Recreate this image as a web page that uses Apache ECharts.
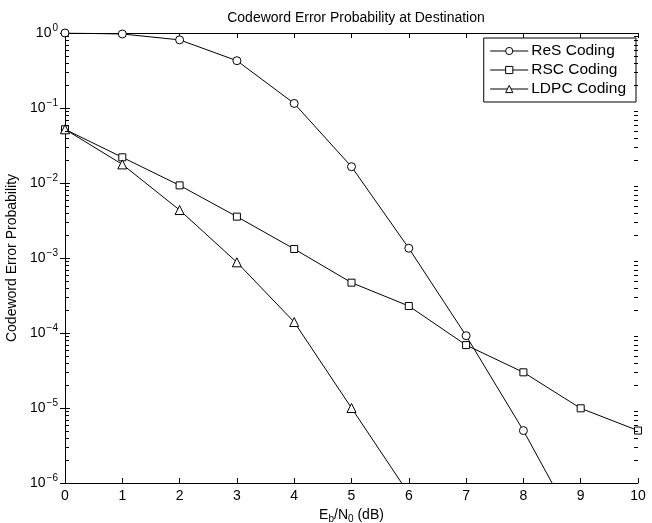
<!DOCTYPE html>
<html>
<head>
<meta charset="utf-8">
<script src="https://cdn.jsdelivr.net/npm/echarts@6/dist/echarts.min.js"></script>
<style>html,body{margin:0;padding:0;background:#fff}#c{width:652px;height:523px}</style>
</head>
<body>
<div id="c"></div>
<script>
const ebn0 = [0, 1, 2, 3, 4, 5, 6, 7, 8, 9, 10];
const resCoding = [1.0, 0.97, 0.81, 0.427, 0.115, 0.0165, 1.35e-3, 9.2e-5, 5.0e-6, 2.0e-7, null];
const rscCoding = [0.052, 0.022, 0.0093, 0.00356, 0.00132, 4.69e-4, 2.29e-4, 6.9e-5, 2.99e-5, 9.9e-6, 5.0e-6];
const ldpcCoding = [0.052, 0.0177, 0.00436, 8.76e-4, 1.4e-4, 1.0e-5, 7.2e-7, null, null, null, null];
const seriesNames = ['ReS Coding', 'RSC Coding', 'LDPC Coding'];
const xTicks = [0, 1, 2, 3, 4, 5, 6, 7, 8, 9, 10];
const yDecades = [-6, -5, -4, -3, -2, -1, 0];
const minorMultipliers = [2, 3, 4, 5, 6, 7, 8, 9];

const FONT = 'Liberation Sans, Arial, Helvetica, sans-serif';
const pairs = arr => ebn0.map((x, i) => [x, arr[i]]).filter(p => p[1] != null);

const chart = echarts.init(document.getElementById('c'), null, {renderer: 'canvas'});
const sup = n => '10{sup|' + (n === 0 ? '0' : '\u2212' + Math.abs(n)) + '}';

const baseSeries = (name, data, symbol) => ({
  name, type: 'line', data: pairs(data), symbol, symbolSize: symbol === 'triangle' ? 9 : (symbol === 'rect' ? 7 : 8),
  showAllSymbol: true, clip: true,
  lineStyle: {color: '#000', width: 1},
  itemStyle: {color: '#fff', borderColor: '#000', borderWidth: 1},
  emphasis: {disabled: true}, animation: false
});

// minor tick values (2..9 x 10^d) placed through the log axis scale
const minorTickValues = [];
yDecades.slice(0, -1).forEach(d => minorMultipliers.forEach(m => minorTickValues.push([0, m * Math.pow(10, d)])));

const minorTickSeries = {
  type: 'custom', name: 'minorTicks', silent: true, clip: false, z: 10,
  data: minorTickValues,
  renderItem: (params, api) => {
    const cs = params.coordSys;
    const p = api.coord([api.value(0), api.value(1)]);
    const y = Math.round(p[1]) + 0.5;
    const xl = Math.round(cs.x);
    const xr = Math.round(cs.x + cs.width);
    return {
      type: 'group',
      children: [
        {type: 'rect', shape: {x: xl, y: y - 0.5, width: 4, height: 1}, style: {fill: '#000'}},
        {type: 'rect', shape: {x: xr - 4, y: y - 0.5, width: 4, height: 1}, style: {fill: '#000'}}
      ]
    };
  }
};

chart.setOption({
  animation: false,
  backgroundColor: '#fff',
  textStyle: {fontFamily: FONT},
  title: {
    text: 'Codeword Error Probability at Destination',
    left: 351, top: 6, textAlign: 'center',
    textStyle: {fontFamily: FONT, fontSize: 14, fontWeight: 'normal', color: '#000'}
  },
  grid: {left: 65, right: 14, top: 33, bottom: 40, show: false, outerBoundsMode: 'none', containLabel: false},
  legend: {
    right: 16, top: 38, orient: 'vertical',
    data: seriesNames,
    backgroundColor: '#fff', borderColor: '#000', borderWidth: 1,
    padding: [5, 10, 5, 6], itemGap: 3, itemWidth: 38, itemHeight: 9,
    lineStyle: {width: 1, color: '#000'},
    itemStyle: {borderWidth: 1, borderColor: '#000', color: '#fff'},
    textStyle: {fontFamily: FONT, fontSize: 15.5, color: '#000', padding: [0, 0, 0, -2]}
  },
  xAxis: [{
    type: 'value', min: 0, max: 10, interval: 1,
    name: 'E{sub|b}/N{sub|0} (dB)', nameLocation: 'middle', nameGap: 22,
    nameTextStyle: {fontFamily: FONT, fontSize: 14, color: '#000',
      rich: {sub: {fontSize: 10, verticalAlign: 'bottom', padding: [8, 0, 0, 0]}}},
    axisLine: {show: true, lineStyle: {color: '#000', width: 1}},
    axisTick: {show: true, inside: true, length: 5, lineStyle: {color: '#000'}},
    axisLabel: {fontFamily: FONT, fontSize: 14, color: '#000', margin: 6,
      formatter: v => xTicks.includes(v) ? String(v) : ''},
    splitLine: {show: false}
  }, {
    type: 'value', min: 0, max: 10, interval: 1, position: 'top',
    axisLine: {show: true, lineStyle: {color: '#000', width: 1}},
    axisTick: {show: true, inside: true, length: 5, lineStyle: {color: '#000'}},
    axisLabel: {show: false}, splitLine: {show: false}
  }],
  yAxis: [{
    type: 'log', logBase: 10, min: 1e-6, max: 1,
    name: 'Codeword Error Probability', nameLocation: 'middle', nameGap: 39,
    nameTextStyle: {fontFamily: FONT, fontSize: 14, color: '#000'},
    axisLine: {show: true, lineStyle: {color: '#000', width: 1}},
    axisTick: {show: true, inside: true, length: 5, lineStyle: {color: '#000'}},
    axisLabel: {
      fontFamily: FONT, fontSize: 14, color: '#000', margin: 7,
      formatter: v => {
        const e = Math.round(Math.log10(v));
        return yDecades.includes(e) ? sup(e) : '';
      },
      rich: {sup: {fontSize: 10, verticalAlign: 'top', padding: [0, 0, 10, 1]}}
    },
    splitLine: {show: false}
  }, {
    type: 'log', logBase: 10, min: 1e-6, max: 1, position: 'right',
    axisLine: {show: true, lineStyle: {color: '#000', width: 1}},
    axisTick: {show: true, inside: true, length: 5, lineStyle: {color: '#000'}},
    axisLabel: {show: false}, splitLine: {show: false}
  }],
  series: [
    baseSeries(seriesNames[0], resCoding, 'circle'),
    baseSeries(seriesNames[1], rscCoding, 'rect'),
    baseSeries(seriesNames[2], ldpcCoding, 'triangle'),
    minorTickSeries
  ]
});
</script>
</body>
</html>
